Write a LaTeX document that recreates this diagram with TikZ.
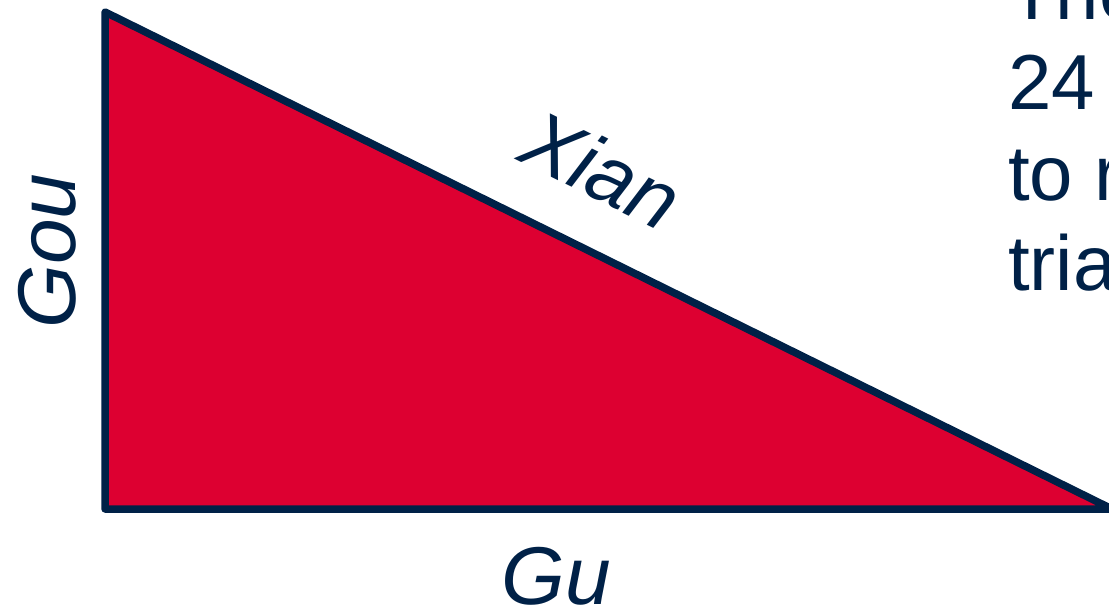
\documentclass[tikz,border=0pt]{standalone}
\usepackage{fontspec}
\setmainfont{Liberation Sans}
\definecolor{navy}{RGB}{0,33,71}
\definecolor{tired}{RGB}{221,0,49}
\begin{document}
\begin{tikzpicture}[x=1pt,y=-1pt,
  lbl/.style={text=navy,inner sep=0pt,font=\fontsize{82}{94}\selectfont\itshape},
  body/.style={text=navy,inner sep=0pt,anchor=base west,font=\fontsize{78}{90}\selectfont}]
\useasboundingbox (0,0) rectangle (1109,610);
\clip (0,0) rectangle (1109,610);
\coordinate (A) at (105,12);
\coordinate (B) at (105,509);
\coordinate (C) at (1112,509);
\filldraw[fill=tired,draw=navy,line width=7.5pt,line join=round] (A) -- (B) -- (C) -- cycle;
\node[lbl,rotate=90,anchor=base] (gou) at (75.5,251) {Gou};
\node[lbl,anchor=base] (gu) at (556,604) {Gu};
\node[lbl,rotate=-26.27,anchor=base] (xian) at (589,196) {Xian};
\node[body] (t1) at (1008,20) {The};
\node[body] (t2) at (1008,110) {24};
\node[body] (t3) at (1008,200) {to r};
\node[body] (t4) at (1008,290) {tria};
\end{tikzpicture}
\end{document}
